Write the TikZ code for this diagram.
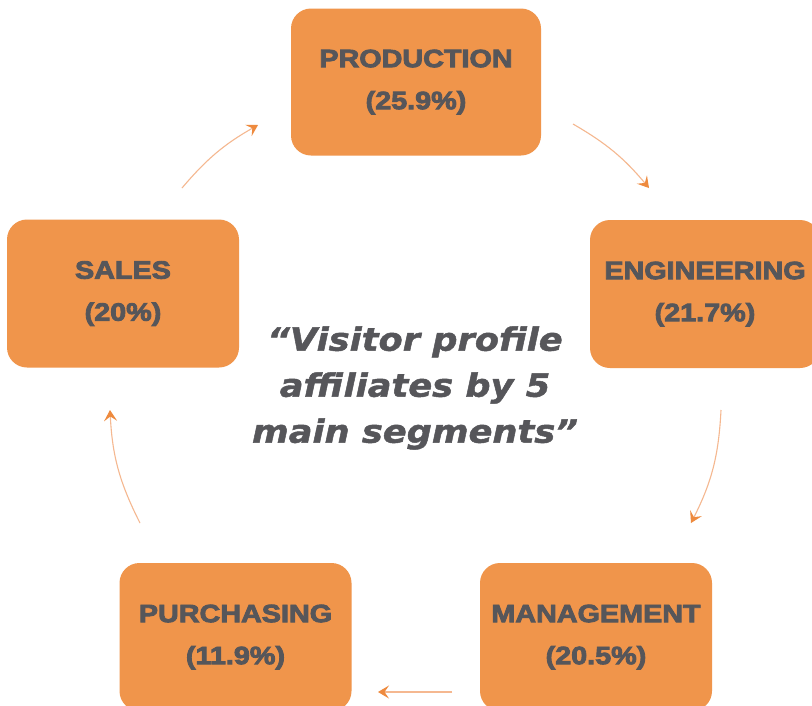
\documentclass[tikz,border=0pt]{standalone}
\usepackage{fontspec}
\usetikzlibrary{arrows.meta}
\newfontfamily\segfont{Liberation Sans}[FakeStretch=1.15, FakeBold=3.5]
\newfontfamily\quotefont{DejaVu Sans}[FakeStretch=1.1, FakeBold=1.5]
\definecolor{segorange}{HTML}{F0954B}
\definecolor{seggray}{HTML}{56565A}
\definecolor{linkorange}{HTML}{F5B890}
\definecolor{tiporange}{HTML}{EE8A3E}
\tikzset{
  segbox/.style={fill=segorange, rounded corners=20pt, align=center,
    text=seggray, font=\segfont\bfseries\fontsize{25}{42}\selectfont,
    minimum width=232pt, minimum height=148pt, inner sep=0pt},
  link/.style={draw=linkorange, line width=1.1pt,
    -{Stealth[color=tiporange, length=11pt, width=13pt, inset=4.5pt]}}
}
\begin{document}
\begin{tikzpicture}[x=1pt,y=1pt]
	\clip (0,0) rectangle (812,-705);
	\fill[white] (0,0) rectangle (812,-705);
	
	\node[segbox, minimum width=250pt, minimum height=147pt] (prod) at (416,-82) {PRODUCTION\\(25.9\%)};
	\node[segbox, minimum width=230pt] (eng) at (705,-294) {ENGINEERING\\(21.7\%)};
	\node[segbox] (mgmt) at (596,-637) {MANAGEMENT\\(20.5\%)};
	\node[segbox] (purch) at (235.5,-637) {PURCHASING\\(11.9\%)};
	\node[segbox] (sales) at (123,-293.5) {SALES\\(20\%)};
	
	\node[text=seggray, align=center, font=\quotefont\bfseries\itshape\fontsize{32}{46}\selectfont] (quote) at (415,-388) {“Visitor profile\\ affiliates by 5\\main segments”};
	
	\coordinate (sp1) at (182,-188);
	\coordinate (sp2) at (258,-125);
	\coordinate (pe1) at (573,-124);
	\coordinate (pe2) at (649,-188);
	\coordinate (em1) at (721,-410);
	\coordinate (em2) at (691,-523);
	\coordinate (mp1) at (452,-692);
	\coordinate (mp2) at (378,-692);
	\coordinate (ps1) at (140,-523);
	\coordinate (ps2) at (110,-410);
	
	\draw[link] (sp1) to[bend left=10] (sp2);
	\draw[link] (pe1) to[bend left=10] (pe2);
	\draw[link] (em1) to[bend left=12] (em2);
	\draw[link] (mp1) -- (mp2);
	\draw[link] (ps1) to[bend left=12] (ps2);
\end{tikzpicture}
\end{document}
